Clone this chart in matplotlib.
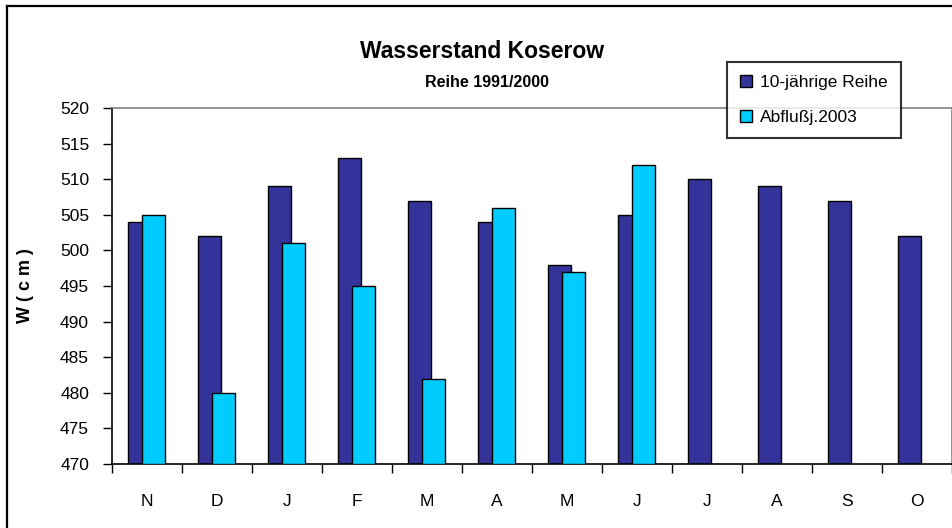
import matplotlib
matplotlib.use("Agg")
import matplotlib.pyplot as plt
import numpy as np
from matplotlib.patches import Patch
from matplotlib.lines import Line2D

plt.rcParams['font.family'] = ['Liberation Sans', 'DejaVu Sans']

months = ["N", "D", "J", "F", "M", "A", "M", "J", "J", "A", "S", "O"]
reihe_10 = [504, 502, 509, 513, 507, 504, 498, 505, 510, 509, 507, 502]
abfluss_2003 = [505, 480, 501, 495, 482, 506, 497, 512]
series_names = ["10-jährige Reihe", "Abflußj.2003"]
yticks = [470, 475, 480, 485, 490, 495, 500, 505, 510, 515, 520]

W, H = 953, 528
fig = plt.figure(figsize=(W / 100, H / 100), dpi=100)
fig.patch.set_facecolor('white')

ax = fig.add_axes([112 / W, (H - 464) / H, (952 - 112) / W, (464 - 108) / H])

x = np.arange(len(months)) + 0.5
bw = 0.33
dark = '#333399'
cyan = '#00CCFF'
base = 470
ax.bar(x[:len(reihe_10)] - 0.11, np.array(reihe_10) - base, bottom=base, width=bw,
       color=dark, edgecolor='black', linewidth=1.0, zorder=2)
ax.bar(x[:len(abfluss_2003)] + 0.09, np.array(abfluss_2003) - base, bottom=base, width=bw,
       color=cyan, edgecolor='black', linewidth=1.0, zorder=3)

ax.set_xlim(0, len(months))
ax.set_ylim(470, 520)
ax.set_yticks(yticks)
ax.set_xticks(np.arange(len(months) + 1))
ax.set_xticklabels([])
ax.set_xticks(x, minor=True)
ax.set_xticklabels(months, minor=True)
ax.tick_params(axis='x', which='major', direction='out', length=6.5, width=1.0)
ax.tick_params(axis='x', which='minor', length=0, pad=21.5, labelsize=12.5)
ax.tick_params(axis='y', direction='out', length=6.5, width=1.0, pad=10, labelsize=12.5)

for s in ['left', 'bottom']:
    ax.spines[s].set_color('black')
    ax.spines[s].set_linewidth(1.2)
for s in ['top', 'right']:
    ax.spines[s].set_color('#808080')
    ax.spines[s].set_linewidth(1.2)

ax.set_ylabel("W ( c m )", fontsize=13, fontweight='bold')
ax.yaxis.set_label_coords(-0.093, 0.5)

fig.text(482 / W, 1 - 58 / H, "Wasserstand Koserow", ha='center', va='baseline',
         fontsize=16.5, fontweight='bold')
fig.text(487 / W, 1 - 87 / H, "Reihe 1991/2000", ha='center', va='baseline',
         fontsize=11.5, fontweight='bold')

handles = [Patch(facecolor=dark, edgecolor='black', linewidth=1.0),
           Patch(facecolor=cyan, edgecolor='black', linewidth=1.0)]
leg = fig.legend(handles, series_names, loc='upper left',
                 bbox_to_anchor=(727 / W, 1 - 62 / H), fontsize=12.5,
                 frameon=True, fancybox=False, shadow=False,
                 handlelength=0.7, handleheight=0.7, handletextpad=0.45,
                 borderpad=0.75, labelspacing=1.15, borderaxespad=0)
leg.get_frame().set_edgecolor('black')
leg.get_frame().set_linewidth(1.5)
leg.set_zorder(10)

# outer chart border (left and top visible)
fig.add_artist(Line2D([7 / W, 7 / W], [0, 1 - 6 / H], transform=fig.transFigure,
                      color='black', linewidth=1.6))
fig.add_artist(Line2D([7 / W, 1], [1 - 6 / H, 1 - 6 / H], transform=fig.transFigure,
                      color='black', linewidth=1.6))

fig.savefig("out.png", dpi=100)
